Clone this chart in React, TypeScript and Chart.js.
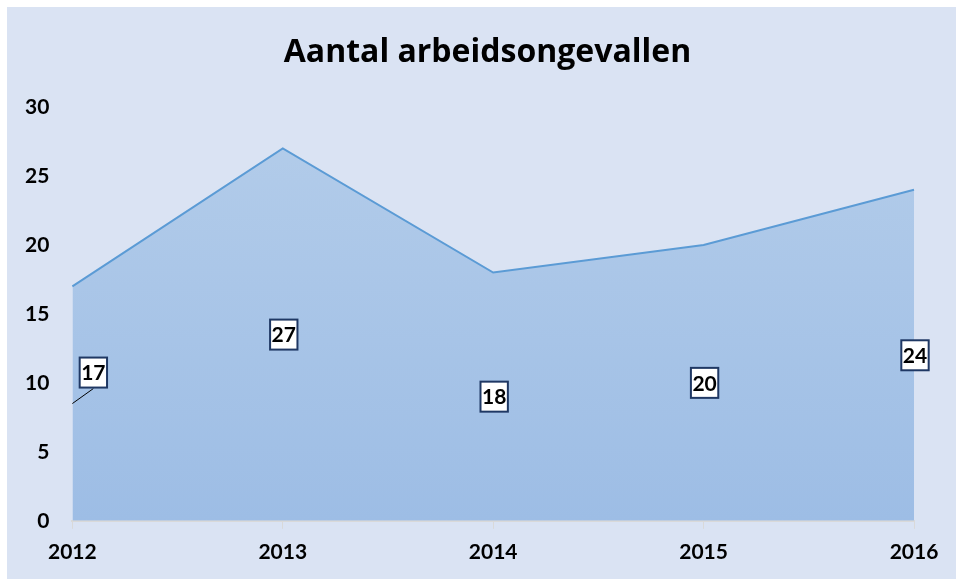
import React, { useEffect, useRef } from "react";
import { Chart, registerables } from "chart.js";

Chart.register(...registerables);

const title = "Aantal arbeidsongevallen";
const years = ["2012", "2013", "2014", "2015", "2016"];
const accidents = [17, 27, 18, 20, 24];
const yTicks = [0, 5, 10, 15, 20, 25, 30];

const FONT = "Lato, 'Open Sans', sans-serif";
const TITLE_FONT = "'Open Sans', Lato, sans-serif";

const bgPlugin = {
  id: "bg",
  beforeDraw(chart: any) {
    const { ctx, width, height } = chart;
    ctx.save();
    ctx.fillStyle = "#dae3f3";
    ctx.fillRect(0, 0, width, height);
    ctx.restore();
  },
};

const titlePlugin = {
  id: "ownTitle",
  afterDraw(chart: any) {
    const { ctx } = chart;
    ctx.save();
    ctx.font = `bold 32px ${TITLE_FONT}`;
    ctx.fillStyle = "#000000";
    ctx.textAlign = "center";
    ctx.textBaseline = "middle";
    ctx.fillText(title, 480.5, 46);
    ctx.restore();
  },
};

const labelPlugin = {
  id: "labels",
  afterDatasetsDraw(chart: any) {
    const { ctx } = chart;
    const xs = chart.scales.x;
    const ys = chart.scales.y;
    const data = chart.data.datasets[0].data as number[];
    ctx.save();
    ctx.font = `bold 21px ${FONT}`;
    ctx.textAlign = "center";
    ctx.textBaseline = "middle";
    data.forEach((v, i) => {
      const px = xs.getPixelForValue(i);
      const py = ys.getPixelForValue(v / 2);
      let cx = px + 1;
      let cy = py;
      if (i === 0) {
        cx = px + 21;
        cy = py - 31;
      }
      const text = String(v);
      const w = ctx.measureText(text).width + 3;
      const h = 30;
      if (i === 0) {
        ctx.strokeStyle = "#000000";
        ctx.lineWidth = 1;
        ctx.beginPath();
        ctx.moveTo(px, py);
        ctx.lineTo(cx, cy + h / 2 + 1);
        ctx.stroke();
      }
      ctx.fillStyle = "#ffffff";
      ctx.fillRect(cx - w / 2, cy - h / 2, w, h);
      ctx.strokeStyle = "#1f3864";
      ctx.lineWidth = 2;
      ctx.strokeRect(cx - w / 2, cy - h / 2, w, h);
      ctx.fillStyle = "#000000";
      ctx.fillText(text, cx, cy + 1);
    });
    ctx.restore();
  },
};

export default function App() {
  const ref = useRef<HTMLCanvasElement>(null);
  useEffect(() => {
    const canvas = ref.current!;
    const chart = new Chart(canvas, {
      type: "line",
      data: {
        labels: years,
        datasets: [
          {
            data: accidents,
            borderColor: "#5b9bd5",
            borderWidth: 2,
            pointRadius: 0,
            tension: 0,
            fill: "origin",
            backgroundColor: (c: any) => {
              const area = c.chart.chartArea;
              if (!area) return "#a9c5e7";
              const g = c.chart.ctx.createLinearGradient(0, area.top, 0, area.bottom);
              g.addColorStop(0, "#b4cdea");
              g.addColorStop(1, "#9dbde5");
              return g;
            },
          },
        ],
      },
      options: {
        responsive: false,
        animation: false,
        layout: { padding: { left: -5, right: 42, top: 100, bottom: 3 } },
        plugins: {
          legend: { display: false },
          tooltip: { enabled: false },
          title: { display: false },
        },
        scales: {
          x: {
            type: "category",
            offset: false,
            grid: {
              display: true,
              drawOnChartArea: false,
              drawTicks: true,
              tickLength: 8,
              color: "#d9d9d9",
            },
            border: { display: true, color: "#d9d9d9", width: 2 },
            ticks: {
              color: "#000000",
              font: { family: FONT, size: 21, weight: "bold" },
              padding: 11,
              maxRotation: 0,
            },
          },
          y: {
            min: 0,
            max: 30,
            afterBuildTicks: (s: any) => {
              s.ticks = yTicks.map((v) => ({ value: v }));
            },
            grid: { display: false, drawTicks: false },
            border: { display: false },
            ticks: {
              color: "#000000",
              font: { family: FONT, size: 21, weight: "bold" },
              padding: 23,
            },
          },
        },
      },
      plugins: [bgPlugin, labelPlugin, titlePlugin],
    });
    return () => chart.destroy();
  }, []);
  return (
    <div style={{ position: "fixed", left: 7, top: 7, width: 949, height: 572 }}>
      <canvas ref={ref} width={949} height={572} style={{ display: "block" }} />
    </div>
  );
}
